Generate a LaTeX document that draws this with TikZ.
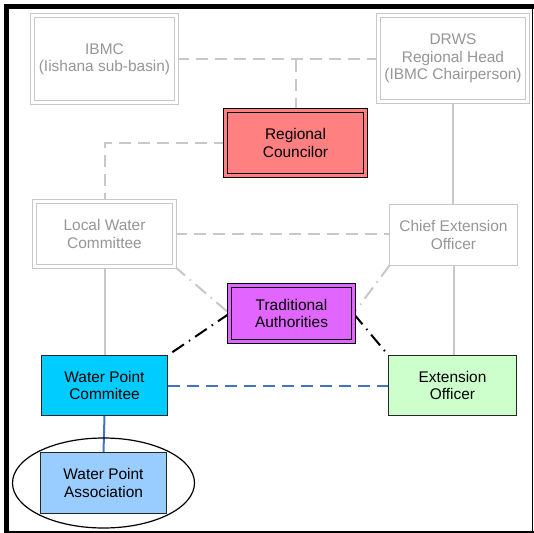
\documentclass[tikz,border=0pt]{standalone}
\usepackage{fontspec}
\setmainfont{Liberation Sans}
\usetikzlibrary{shapes.geometric,backgrounds}
\definecolor{rcfill}{RGB}{255,128,128}
\definecolor{tafill}{RGB}{224,102,255}
\definecolor{wpcfill}{RGB}{0,204,255}
\definecolor{eofill}{RGB}{204,255,204}
\definecolor{wpafill}{RGB}{153,204,255}
\definecolor{grayline}{RGB}{200,200,200}
\definecolor{graytext}{RGB}{150,150,150}
\definecolor{blueline}{RGB}{68,114,196}
\begin{document}
\begin{tikzpicture}[x=1bp,y=-1bp,
  base/.style={rectangle, align=center, inner sep=0pt, outer sep=0pt, font=\fontsize{15.5}{17.5}\selectfont},
  graydbl/.style={base, draw=grayline, fill=white, double=white, double distance=3bp, line width=1bp, text=graytext},
  graysgl/.style={base, draw=grayline, fill=white, line width=1.3bp, text=graytext},
  blackdbl/.style={base, draw=black, double distance=3bp, line width=1bp},
  blacksgl/.style={base, draw=black!85, line width=1.3bp},
  graydash/.style={draw=grayline, line width=2bp, dash pattern=on 12bp off 7bp},
  graysolid/.style={draw=grayline, line width=2bp},
  graydashdot/.style={draw=grayline, line width=2bp, dash pattern=on 14bp off 6bp on 1.5bp off 6bp},
  blackdashdot/.style={draw=black, line width=2bp, dash pattern=on 14bp off 6bp on 1.5bp off 6bp},
  bluedash/.style={draw=blueline, line width=2bp, dash pattern=on 12bp off 7bp},
  bluesolid/.style={draw=blueline, line width=2bp}]
\useasboundingbox (0,0) rectangle (534,533);
% frame
\fill[black] (4,4) rectangle (9,533);
\fill[black] (4,4) rectangle (534,9);
\draw[line width=1.5bp] (532.5,4) -- (532.5,533);
\draw[line width=1.5bp] (4,531.75) -- (534,531.75);
% nodes
\node[graydbl, minimum width=144bp, minimum height=87bp] (ibmc) at (104.5,59) {IBMC\\(Iishana sub-basin)};
\node[graydbl, minimum width=149bp, minimum height=86bp] (drws) at (453,58.5) {DRWS\\Regional Head\\(IBMC Chairperson)};
\node[blackdbl, fill=rcfill, double=rcfill, minimum width=140bp, minimum height=65bp] (rc) at (295.5,143) {Regional\\Councilor};
\node[graydbl, minimum width=140bp, minimum height=65bp] (lwc) at (104.5,234) {Local Water\\Committee};
\node[graysgl, minimum width=128bp, minimum height=61bp] (ceo) at (453.5,235) {Chief Extension\\Officer};
\node[blackdbl, fill=tafill, double=tafill, minimum width=124bp, minimum height=56bp] (ta) at (291.5,313.5) {Traditional\\Authorities};
\node[blacksgl, fill=wpcfill, minimum width=126bp, minimum height=60bp] (wpc) at (104.5,385.5) {Water Point\\Commitee};
\node[blacksgl, fill=eofill, minimum width=128bp, minimum height=60bp] (eo) at (452.5,385.5) {Extension\\Officer};
\node[ellipse, draw=black, line width=1.2bp, inner sep=0pt, minimum width=182bp, minimum height=90bp] (wpaoval) at (103.5,483) {};
\node[blacksgl, fill=wpafill, minimum width=126bp, minimum height=61bp] (wpa) at (103.5,483) {Water Point\\Association};
% connectors
\begin{scope}[on background layer]
\draw[graydash] (ibmc.east) -- (ibmc.east -| drws.west);
\draw[graydash] (rc.north) -- (rc.north |- ibmc.east);
\draw[graydash] (rc.west) -| (lwc.north);
\draw[graysolid] (drws.south) -- (drws.south |- ceo.north);
\draw[graydash] (lwc.east) -- (lwc.east -| ceo.west);
\draw[graysolid] (lwc.south) -- (wpc.north);
\draw[graysolid] (ceo.south) -- (ceo.south |- eo.north);
\draw[graydashdot] (lwc.south east) -- (ta.west);
\draw[graydashdot] (ceo.south west) -- (ta.east);
\draw[blackdashdot] (ta.west) -- (wpc.north east);
\draw[blackdashdot] (ta.east) -- (eo.north west);
\draw[bluedash] (wpc.east) -- (eo.west);
\draw[bluesolid] (wpc.south) -- (wpa.north);
\end{scope}
\end{tikzpicture}
\end{document}
